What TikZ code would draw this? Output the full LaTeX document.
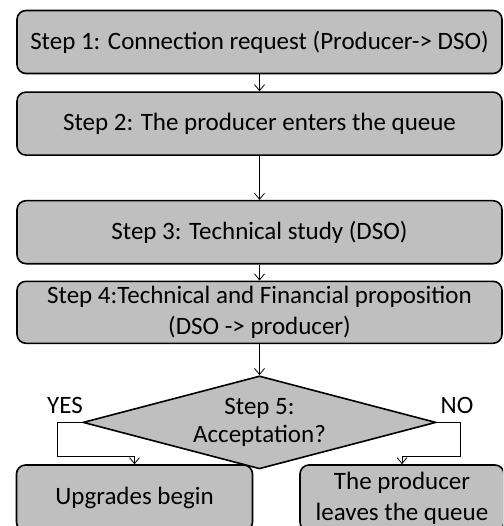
\documentclass[tikz,border=0pt]{standalone}
\usepackage{fontspec}
\setmainfont{Carlito}
\usetikzlibrary{positioning,shapes.geometric,arrows.meta}
\begin{document}
\begin{tikzpicture}[x=1pt, y=-1pt,
	main/.style = {draw, line width=1.6pt, rounded corners=9pt, fill=black!25, minimum width=485pt, minimum height=63pt, inner sep=0pt, align=center, font=\fontsize{25}{31}\selectfont},
	choice/.style = {diamond, draw, line width=1.6pt, fill=black!25, minimum width=353pt, minimum height=93pt, inner sep=0pt, aspect=3.8, align=center, font=\fontsize{25}{28}\selectfont},
	answer/.style = {inner sep=0pt, font=\fontsize{25}{28}\selectfont},
	flow/.style = {-{Straight Barb[length=6pt, width=10pt]}, line width=0.8pt}]
		\clip (0,0) rectangle (503,526);
		\node[main] (1) at (259.5,42) {Step 1: Connection request (Producer-> DSO)};
		\node[main] (2) [below=17pt of 1] {Step 2: The producer enters the queue};
		\draw[flow] (1) -- (2);
		\node[main] (3) [below=44pt of 2] {Step 3: Technical study (DSO)};
		\draw[flow] (2) -- (3);
		\node[main, minimum height=62pt] (4) [below=16pt of 3] {Step 4:Technical and Financial proposition\\(DSO -> producer)};
		\draw[flow] (3) -- (4);
		\node[choice] (5) [below=31pt of 4] {Step 5:\\Acceptation?};
		\draw[flow] (4) -- (5);
		\node[main, minimum width=236pt, minimum height=66pt] (6) at (134.5,498) {Upgrades begin};
		\node[main, minimum width=204pt, minimum height=66pt] (7) at (402,498) {The producer\\leaves the queue};
		\node[answer] (yes) at (65,405) {YES};
		\node[answer] (no) at (457,405) {NO};
		\draw[flow] (5.west) -- ++(-25,0) -- ++(0,34) -| (6.north);
		\draw[flow] (5.east) -- ++(24,0) -- ++(0,34) -| (7.north);
	\end{tikzpicture}
\end{document}
